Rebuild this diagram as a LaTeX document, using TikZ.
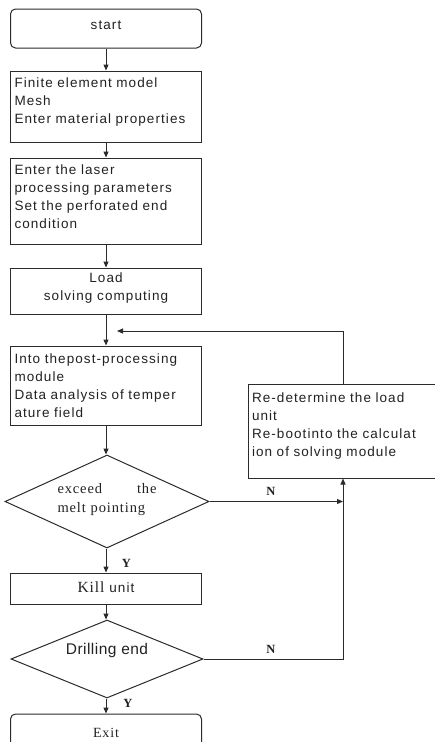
\documentclass[tikz,border=0pt]{standalone}
\usepackage{fontspec}
\setmainfont{Liberation Serif}
\setsansfont{Liberation Sans}
\newfontfamily\flowsans[LetterSpace=8]{Liberation Sans}
\newfontfamily\flowsanswide[LetterSpace=3]{Liberation Sans}
\newfontfamily\flowserif[LetterSpace=6]{Liberation Serif}
\usetikzlibrary{shapes.geometric,arrows.meta}
\definecolor{lc}{HTML}{2B2B2B}
\definecolor{txc}{HTML}{222222}
% invisible strut that gives the last line of a node extra depth
\newcommand\dpad[1]{\rule[-#1pt]{0pt}{#1pt}}
\tikzset{
  ln/.style={draw=lc, line width=1pt},
  arr/.style={ln, -{Triangle[length=6pt,width=5pt]}},
  boxnode/.style={draw=lc, line width=1pt, minimum width=191pt, inner xsep=4pt,
    inner ysep=0pt, text=txc, font=\flowsans\fontsize{13.5}{18}\selectfont},
  leftbox/.style={boxnode, align=left, text width=183pt},
  midbox/.style={boxnode, align=center},
  termbox/.style={boxnode, rounded corners=5pt},
  decision/.style={diamond, draw=lc, line width=1pt, inner sep=0pt, text=txc},
  yn/.style={font=\bfseries\fontsize{12.5}{14}\selectfont, text=txc, inner sep=0pt, anchor=base},
}
\begin{document}
\begin{tikzpicture}[x=1pt, y=-1pt]
  \useasboundingbox (0,0) rectangle (435,742);
  \fill[white] (0,0) rectangle (435,742);
  \clip (0,0) rectangle (435,742);

  % main column
  \node[termbox, minimum height=39pt, text height=9pt, text depth=8pt] (start) at (106,28.5) {start};
  \node[leftbox, minimum height=71pt] (mesh) at (106,106.5)
    {Finite element model\\Mesh\\Enter material properties\dpad{11}};
  \node[leftbox, minimum height=86pt] (laser) at (106,201)
    {Enter the laser\\processing parameters\\Set the perforated end\\condition\dpad{8}};
  \node[midbox, minimum height=46pt] (load) at (106,291)
    {Load\\solving computing\dpad{8}};
  \node[leftbox, minimum height=79pt] (post) at (106,385.5)
    {Into thepost-processing\\module\\Data analysis of temper\\ature field};
  \node[decision, minimum width=204pt, minimum height=93pt, aspect=2.2,
        text width=99pt, align=left, font=\flowserif\fontsize{14.5}{19}\selectfont] (melt) at (107,501.5)
    {exceed\hfill the\\melt pointing\dpad{7.5}};
  \node[boxnode, minimum height=31pt, text height=10pt, text depth=3pt] (kill) at (106,588.5)
    {{\flowserif\fontsize{15.5}{18}\selectfont Kill} unit};
  \node[decision, minimum width=192pt, minimum height=78pt, aspect=2.45,
        text height=2pt, text depth=11pt, font=\flowsanswide\fontsize{15.5}{18}\selectfont] (drill) at (107,659)
    {Drilling end};
  \node[termbox, minimum height=39pt, text height=10pt, text depth=3pt,
        font=\flowserif\fontsize{14}{18}\selectfont] (exit) at (106,733.5) {Exit};

  % side box for the recalculation loop
  \node[leftbox, minimum width=190pt, text width=182pt, minimum height=94pt] (redo) at (343,431)
    {Re-determine the load\\unit\\Re-bootinto the calculat\\ion of solving module\dpad{12}};

  \coordinate (back) at (117,331);

  % flow
  \draw[arr] (start.south) -- (start.south |- mesh.north);
  \draw[arr] (mesh.south) -- (mesh.south |- laser.north);
  \draw[arr] (laser.south) -- (laser.south |- load.north);
  \draw[arr] (load.south) -- (load.south |- post.north);
  \draw[arr] (post.south) -- (post.south |- melt.north);
  \draw[arr] (post.south |- melt.south) -- (kill.north);
  \draw[arr] (kill.south) -- (kill.south |- drill.north);
  \draw[arr] (kill.south |- drill.south) -- (exit.north);

  \draw[arr] (melt.east) -- (melt.east -| redo.south);
  \draw[arr] (drill.east) -| (redo.south);
  \draw[arr] (redo.north) |- (back);

  % branch labels
  \node[yn] (y1) at (126.5,567) {Y};
  \node[yn] (y2) at (128,707) {Y};
  \node[yn] (n1) at (271,495) {N};
  \node[yn] (n2) at (271,653) {N};
\end{tikzpicture}
\end{document}
